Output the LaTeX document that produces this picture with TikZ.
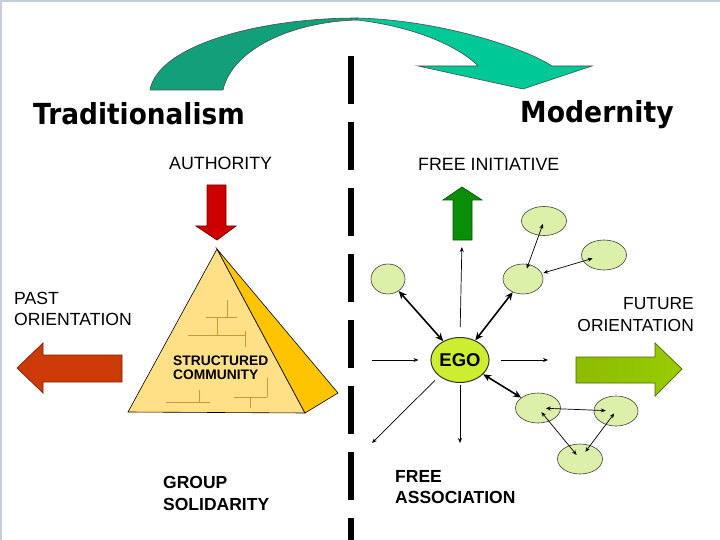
\documentclass[tikz,border=0pt]{standalone}
\usepackage{fontspec}
\setmainfont{Liberation Sans}
\newfontfamily\titlefont{DejaVu Sans}
\usetikzlibrary{arrows.meta,shapes.geometric,calc}
\definecolor{framec}{HTML}{C3CFDB}
\definecolor{arrdark}{HTML}{12A07A}
\definecolor{arrlight}{HTML}{00C896}
\definecolor{pyrlight}{HTML}{FFE086}
\definecolor{pyrgold}{HTML}{FFC400}
\definecolor{brick}{HTML}{C49A3A}
\definecolor{authred}{HTML}{CC0000}
\definecolor{pastred}{HTML}{CC3A08}
\definecolor{initgreen}{HTML}{0A8E0A}
\definecolor{futgreen}{HTML}{99CC00}
\definecolor{ellfill}{HTML}{DDF0AA}
\definecolor{egofill}{HTML}{CCEE30}
\tikzset{
  title/.style={inner sep=0pt, font=\titlefont\bfseries\fontsize{29}{34}\selectfont},
  label/.style={inner sep=0pt, font=\fontsize{17.8}{21}\selectfont},
  blabel/.style={inner sep=0pt, font=\bfseries\fontsize{17.5}{21}\selectfont},
  smallell/.style={ellipse, draw=black!75, line width=0.6pt, fill=ellfill, inner sep=0pt},
  thinarr/.style={line width=0.7pt, -{Stealth[length=5pt,width=4pt]}},
  thinboth/.style={line width=0.7pt, {Stealth[length=5pt,width=4pt]}-{Stealth[length=5pt,width=4pt]}},
  thickboth/.style={line width=1.6pt, {Stealth[length=8pt,width=7pt]}-{Stealth[length=8pt,width=7pt]}},
  brickline/.style={draw=brick, line width=0.8pt},
  blockarrow/.style={line width=0.7pt}
}
\begin{document}
\begin{tikzpicture}[x=1pt,y=-1pt]
\useasboundingbox (0,0) rectangle (720,540);
\fill[white] (0,0) rectangle (720,540);
\draw[framec, line width=2pt] (1,540) -- (1,1) -- (720,1);

% curved arrow
\filldraw[fill=arrdark, draw=black!70, line width=0.6pt]
  (150,90) .. controls (158,45) and (260,18) .. (357,18)
  -- (357,20) .. controls (290,22) and (232,50) .. (223,90) -- cycle;
\filldraw[fill=arrlight, draw=black!70, line width=0.6pt]
  (357,18) .. controls (440,20) and (525,48) .. (552,66)
  -- (592,66) -- (523,89) -- (418,66) -- (478,66)
  .. controls (465,52) and (425,28) .. (357,20) -- cycle;

% divider
\draw[line width=6pt, dash pattern=on 48pt off 18pt] (351,56) -- (351,540);

% titles
\node[title, anchor=base west] (trad) at (33,125) {\scalebox{0.91}[1]{Traditionalism}};
\node[title, anchor=base west] (mod) at (520,123) {\scalebox{0.92}[1]{Modernity}};

% left side
\node[label, anchor=base west] (auth) at (169,170) {AUTHORITY};
\filldraw[fill=authred, draw=authred!60!black, blockarrow]
  (207,185) -- (226,185) -- (226,226) -- (236,226) -- (217,240) -- (196,226) -- (207,226) -- cycle;

\node[label, anchor=north west, align=left, font=\fontsize{17.6}{21}\selectfont] (past) at (14,292) {PAST\\ORIENTATION};
\filldraw[fill=pastred, draw=pastred!60!black, blockarrow]
  (122,355) -- (43,355) -- (43,343) -- (17,368) -- (43,393) -- (43,382) -- (122,382) -- cycle;

% pyramid
\filldraw[fill=pyrlight, draw=black, line width=0.6pt] (217,249) -- (128,412) -- (305,413) -- cycle;
\filldraw[fill=pyrgold, draw=black, line width=0.6pt] (217,249) -- (305,413) -- (338,393) -- cycle;
\draw[brickline] (227,300) -- (227,317) (206,317) -- (237,317);
\draw[brickline] (217,317) -- (217,335) (188,335) -- (245,335) (245,331) -- (245,347);
\draw[brickline] (199,390) -- (199,402) (166,402) -- (210,402);
\draw[brickline] (234,397) -- (267,397) (267,378) -- (267,397) (250,397) -- (250,408);
\node[anchor=north west, align=left, inner sep=0pt, font=\bfseries\fontsize{13.8}{14}\selectfont] (struct) at (173,356) {STRUCTURED\\COMMUNITY};

\node[blabel, anchor=north west, align=left, font=\bfseries\fontsize{17.5}{22}\selectfont] (group) at (163,476) {GROUP\\SOLIDARITY};

% right side
\node[label, anchor=base west] (init) at (418,171) {FREE INITIATIVE};
\filldraw[fill=initgreen, draw=initgreen!60!black, blockarrow]
  (453,240) -- (453,200) -- (443,200) -- (462,187) -- (482,200) -- (472,200) -- (472,240) -- cycle;
\coordinate (initbase) at (462,240);

\node[label, anchor=north east, align=right, font=\fontsize{17.4}{22}\selectfont] (future) at (694,297) {FUTURE\\ORIENTATION};
\shade[left color=futgreen!92!black, right color=futgreen, draw=futgreen!50!black, blockarrow]
  (576,357) -- (655,357) -- (655,343) -- (682,369) -- (655,396) -- (655,383) -- (576,383) -- cycle;

\node[blabel, anchor=north west, align=left] (assoc) at (395,470) {FREE\\ASSOCIATION};

% network
\node[ellipse, draw=black!80, line width=1pt, fill=egofill, inner sep=0pt,
      minimum width=56pt, minimum height=45pt, font=\bfseries\fontsize{18.5}{20}\selectfont] (EGO) at (460,360) {EGO};
\node[smallell, minimum width=34pt, minimum height=30pt] (A) at (388,279) {};
\node[smallell, minimum width=45pt, minimum height=29pt] (B) at (544,221) {};
\node[smallell, minimum width=45pt, minimum height=30pt] (C) at (604,255) {};
\node[smallell, minimum width=40pt, minimum height=30pt] (D) at (523,279) {};
\node[smallell, minimum width=45pt, minimum height=30pt] (E) at (538,408) {};
\node[smallell, minimum width=44pt, minimum height=30pt] (F) at (616,411) {};
\node[smallell, minimum width=45pt, minimum height=30pt] (G) at (580,459) {};

\draw[thickboth] (A) -- (EGO);
\draw[thickboth] (D) -- (EGO);
\draw[thickboth] (EGO) -- (E);
\draw[thinboth] ($(D)!0.18!(B)$) -- ($(B)!0.05!(D)$);
\draw[thinboth] ($(D)!0.25!(C)$) -- ($(C)!0.14!(D)$);
\draw[thinboth] ($(E)!0.1!(F)$) -- ($(F)!0.13!(E)$);
\draw[thinboth] ($(E)!0.08!(G)$) -- ($(G)!0.08!(E)$);
\draw[thinboth] ($(F)!0.05!(G)$) -- ($(G)!0.15!(F)$);

\coordinate (lstart) at (372,360);
\coordinate (rend) at (548,360);
\coordinate (dend) at (460,443);
\coordinate (dlend) at (372,443);
\draw[thinarr, shorten >=12pt] (lstart) -- (EGO.west);
\draw[thinarr, shorten <=11pt] (EGO.east) -- (rend);
\draw[thinarr, shorten <=10pt, shorten >=7pt] (EGO.north) -- (initbase);
\draw[thinarr, shorten <=2pt] (EGO.south) -- (dend);
\draw[thinarr, shorten <=6pt] (EGO.south west) -- (dlend);
\end{tikzpicture}
\end{document}
